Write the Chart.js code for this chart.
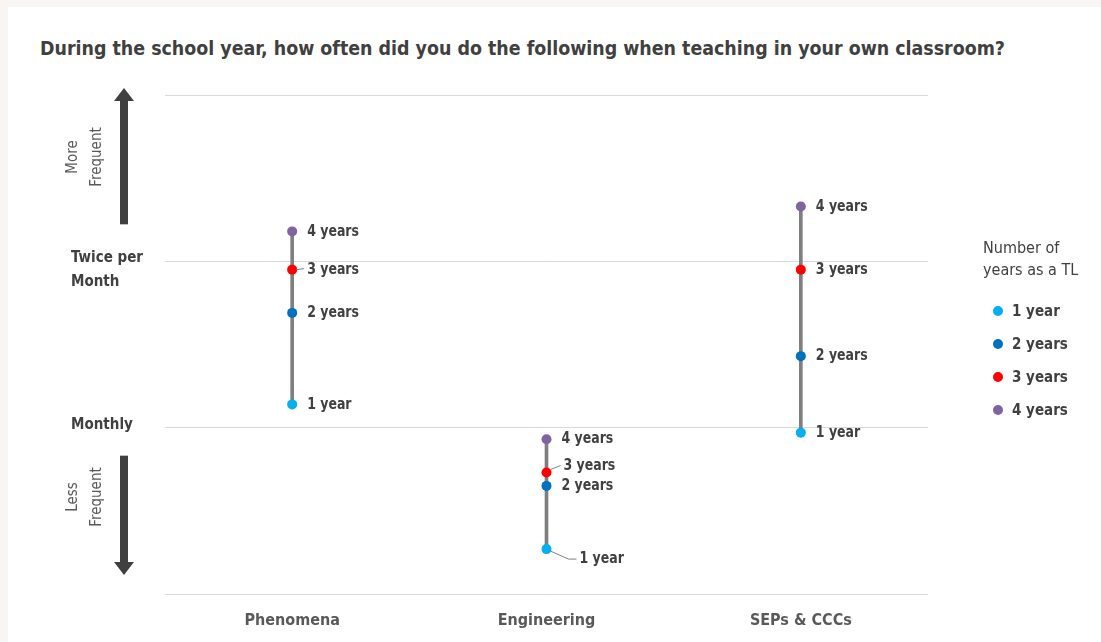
<!DOCTYPE html>
<html>
<head>
<meta charset="utf-8">
<script src="https://cdn.jsdelivr.net/npm/chart.js@4/dist/chart.umd.min.js"></script>
<style>
  html, body { margin: 0; padding: 0; }
  body { width: 1101px; height: 642px; background: #f9f5f2; position: relative; overflow: hidden;
         font-family: "Liberation Sans Narrow", "DejaVu Sans Condensed", sans-serif; color: #404040; }
  #panel { position: absolute; left: 8px; top: 7px; right: 0; bottom: 0; background: #fff; }
  #title { position: absolute; left: 40px; top: 37px; font-size: 19.4px; font-weight: bold; color: #404040; white-space: nowrap; }
  #chart { position: absolute; left: 0; top: 0; }
  #legend { position: absolute; left: 983px; top: 237px; font-size: 16px; color: #404040; }
  #legend .head { line-height: 22px; margin-bottom: 13px; }
  #legend .item { display: flex; align-items: center; height: 33px; margin-left: 10px; font-size: 15px; font-weight: bold; }
  #legend .dot { width: 10px; height: 10px; border-radius: 50%; margin-right: 9px; }
</style>
</head>
<body>
<div id="panel"></div>
<div id="title">During the school year, how often did you do the following when teaching in your own classroom?</div>
<canvas id="chart" width="1101" height="642"></canvas>
<div id="legend"><div class="head">Number of<br>years as a TL</div></div>
<script>
// categories and values
// scale: 0 = bottom line, 1 = Monthly, 2 = Twice per Month, 3 = top line
const categories = ['Phenomena', 'Engineering', 'SEPs & CCCs'];
const seriesNames = ['1 year', '2 years', '3 years', '4 years'];
const oneYear    = [1.14, 0.27, 0.97];
const twoYears   = [1.69, 0.65, 1.43];
const threeYears = [1.95, 0.73, 1.95];
const fourYears  = [2.18, 0.93, 2.33];
const yTickLabels = { 1: 'Monthly', 2: ['', 'Twice per', 'Month'] };

const seriesColors = ['#00b0f0', '#0070c0', '#ff0000', '#8064a2'];
const FONT = '"Liberation Sans Narrow", "DejaVu Sans Condensed", sans-serif';

// label placement tweaks, [category][series] -> dx, dy, leader
const labelTweaks = {
  '0-2': { dx: 15, dy: 0, leader: 'short' },
  '1-2': { dx: 17, dy: -7, leader: 'up' },
  '1-0': { dx: 33, dy: 10, leader: 'down' }
};

const allSeries = [oneYear, twoYears, threeYears, fourYears];
const ranges = categories.map((c, i) => {
  const vals = allSeries.map(s => s[i]);
  return [Math.min(...vals), Math.max(...vals)];
});

// html legend
const legendEl = document.getElementById('legend');
seriesNames.forEach((n, i) => {
  const row = document.createElement('div');
  row.className = 'item';
  row.innerHTML = '<span class="dot" style="background:' + seriesColors[i] + '"></span>' + n;
  legendEl.appendChild(row);
});

const pointLabels = {
  id: 'pointLabels',
  afterDatasetsDraw(chart) {
    const ctx = chart.ctx;
    ctx.save();
    chart.data.datasets.forEach((ds, di) => {
      if (ds.type !== 'line') return;
      const meta = chart.getDatasetMeta(di);
      const si = ds.seriesIndex;
      meta.data.forEach((pt, ci) => {
        const tw = labelTweaks[ci + '-' + si] || { dx: 15, dy: 0 };
        const lx = pt.x + tw.dx, ly = pt.y + tw.dy;
        ctx.strokeStyle = '#7f7f7f';
        ctx.lineWidth = 1;
        if (tw.leader === 'short') {
          ctx.beginPath(); ctx.moveTo(pt.x + 4, pt.y); ctx.lineTo(lx - 3, ly - 1); ctx.stroke();
        } else if (tw.leader === 'up') {
          ctx.beginPath(); ctx.moveTo(pt.x + 4, pt.y - 3); ctx.lineTo(lx - 3, ly); ctx.stroke();
        } else if (tw.leader === 'down') {
          ctx.beginPath(); ctx.moveTo(pt.x + 4, pt.y + 2); ctx.lineTo(pt.x + 22, ly); ctx.lineTo(lx - 3, ly); ctx.stroke();
        }
        // squeeze a little to look like the condensed original font
        ctx.save();
        ctx.translate(lx, ly);
        ctx.scale(0.87, 1);
        ctx.font = 'bold 16px ' + FONT;
        ctx.textBaseline = 'middle';
        ctx.textAlign = 'left';
        ctx.fillStyle = '#404040';
        ctx.fillText(seriesNames[si], 0, 0);
        ctx.restore();
      });
    });
    ctx.restore();
  }
};

// side arrows with "More/Less Frequent"
const sideArrows = {
  id: 'sideArrows',
  afterDraw(chart) {
    const ctx = chart.ctx;
    const y = chart.scales.y;
    const ax = 124;
    function arrow(yFrom, yTip) {
      const dir = yTip < yFrom ? -1 : 1;
      const headLen = 13;
      ctx.fillStyle = '#404040';
      ctx.fillRect(ax - 4, Math.min(yFrom, yTip + -dir * headLen), 8, Math.abs(yTip - yFrom) - headLen + 1);
      ctx.beginPath();
      ctx.moveTo(ax, yTip);
      ctx.lineTo(ax - 10, yTip - dir * headLen);
      ctx.lineTo(ax + 10, yTip - dir * headLen);
      ctx.closePath();
      ctx.fill();
    }
    function sideText(lines, cy) {
      ctx.save();
      ctx.translate(85, cy);
      ctx.rotate(-Math.PI / 2);
      ctx.font = '15px ' + FONT;
      ctx.fillStyle = '#595959';
      ctx.textAlign = 'center';
      ctx.textBaseline = 'middle';
      ctx.fillText(lines[0], 0, -12);
      ctx.fillText(lines[1], 0, 12);
      ctx.restore();
    }
    ctx.save();
    arrow(y.getPixelForValue(2) - 38, y.getPixelForValue(3) - 7);
    arrow(y.getPixelForValue(1) + 28, y.getPixelForValue(0) - 19);
    sideText(['More', 'Frequent'], 157);
    sideText(['Less', 'Frequent'], 497);
    ctx.restore();
  }
};

const datasets = [{
  type: 'bar',
  data: ranges,
  backgroundColor: '#7f7f7f',
  barThickness: 3,
  order: 10
}];
allSeries.forEach((s, i) => {
  datasets.push({
    type: 'line',
    seriesIndex: i,
    data: s,
    showLine: false,
    pointRadius: 5,
    pointHoverRadius: 5,
    pointBorderWidth: 0,
    pointBackgroundColor: seriesColors[i],
    pointBorderColor: seriesColors[i],
    order: 4 - i
  });
});

new Chart(document.getElementById('chart'), {
  data: { labels: categories, datasets: datasets },
  options: {
    responsive: false,
    animation: false,
    layout: { padding: { left: 71, right: 173, top: 95, bottom: 0 } },
    plugins: { legend: { display: false }, tooltip: { enabled: false } },
    scales: {
      x: {
        offset: true,
        afterFit(scale) { scale.height = 48; },
        grid: { display: false, drawTicks: false },
        border: { display: false },
        ticks: { color: '#595959', padding: 17, font: { family: FONT, size: 16, weight: 'bold' } }
      },
      y: {
        min: 0, max: 3,
        afterFit(scale) { scale.width = 94; },
        grid: { color: '#d9d9d9', drawTicks: false, lineWidth: 1 },
        border: { display: false },
        ticks: {
          stepSize: 1,
          crossAlign: 'far',
          labelOffset: -3,
          color: '#404040',
          font: { family: FONT, size: 15, weight: 'bold', lineHeight: 1.6 },
          callback: v => yTickLabels[v] || ''
        }
      }
    }
  },
  plugins: [pointLabels, sideArrows]
});
</script>
</body>
</html>
